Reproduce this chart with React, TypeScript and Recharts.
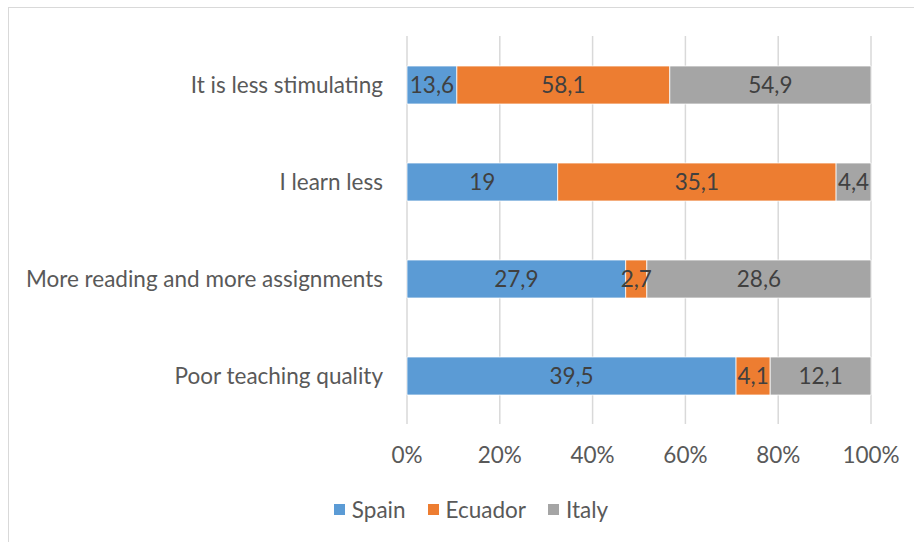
import React from 'react';
import { BarChart, Bar, XAxis, YAxis, CartesianGrid, Legend, LabelList } from 'recharts';

const categories = ['It is less stimulating', 'I learn less', 'More reading and more assignments', 'Poor teaching quality'];
const series = ['Spain', 'Ecuador', 'Italy'];
const spain = [13.6, 19, 27.9, 39.5];
const ecuador = [58.1, 35.1, 2.7, 4.1];
const italy = [54.9, 4.4, 28.6, 12.1];
const xTicks = [0, 0.2, 0.4, 0.6, 0.8, 1];

const data = categories.map((name, i) => ({ name, Spain: spain[i], Ecuador: ecuador[i], Italy: italy[i] }));

const FONT = 'Lato, "Open Sans", sans-serif';
const FS = 22.5;
const fmt = (v: any) => String(v).replace('.', ',');

const LegendContent = (props: any) => {
    const items = [...(props.payload || [])].sort((a: any, b: any) => series.indexOf(a.value) - series.indexOf(b.value));
    return (
        <div style={{ display: 'flex', justifyContent: 'center', gap: 22, fontSize: FS, fontFamily: FONT, color: '#595959' }}>
            {items.map((it: any) => (
                <div key={it.value} style={{ display: 'flex', alignItems: 'center', gap: 7 }}>
                    <span style={{ width: 11, height: 11, background: it.color, display: 'inline-block' }} />
                    <span>{it.value}</span>
                </div>
            ))}
        </div>
    );
};

export default function App() {
    return (
        <div style={{ position: 'absolute', left: 0, top: 0, width: 914, height: 542, background: '#fff', overflow: 'hidden', fontFamily: FONT }}>
            <div style={{ position: 'absolute', left: 8, top: 7, width: 940, height: 600, border: '1px solid #d9d9d9' }} />
            <BarChart
                width={914}
                height={542}
                data={data}
                layout="vertical"
                stackOffset="expand"
                margin={{ top: 36, right: 43, bottom: 58, left: 0 }}
                style={{ position: 'absolute', left: 0, top: 0 }}
            >
                <CartesianGrid horizontal={false} stroke="#d9d9d9" strokeWidth={1.5} />
                <XAxis
                    type="number"
                    domain={[0, 1]}
                    ticks={xTicks}
                    tickFormatter={(v: number) => `${Math.round(v * 100)}%`}
                    axisLine={false}
                    tickLine={false}
                    tickSize={0}
                    tickMargin={23}
                    height={60}
                    tick={{ fill: '#595959', fontSize: FS, fontFamily: FONT }}
                />
                <YAxis
                    type="category"
                    dataKey="name"
                    width={407}
                    axisLine={false}
                    tickLine={false}
                    tickSize={0}
                    tickMargin={24}
                    tick={{ fill: '#595959', fontSize: FS, fontFamily: FONT, dy: 1 }}
                />
                <Legend
                    verticalAlign="middle"
                    align="center"
                    content={LegendContent}
                    wrapperStyle={{ top: 496, left: 14, width: 914 }}
                />
                <Bar dataKey="Spain" stackId="a" fill="#5B9BD5" stroke="#ffffff" strokeWidth={0.75} barSize={38} isAnimationActive={false}>
                    <LabelList dataKey="Spain" position="center" fill="#404040" fontSize={FS} fontFamily={FONT} formatter={fmt} />
                </Bar>
                <Bar dataKey="Ecuador" stackId="a" fill="#ED7D31" stroke="#ffffff" strokeWidth={0.75} barSize={38} isAnimationActive={false}>
                    <LabelList dataKey="Ecuador" position="center" fill="#404040" fontSize={FS} fontFamily={FONT} formatter={fmt} />
                </Bar>
                <Bar dataKey="Italy" stackId="a" fill="#A5A5A5" stroke="#ffffff" strokeWidth={0.75} barSize={38} isAnimationActive={false}>
                    <LabelList dataKey="Italy" position="center" fill="#404040" fontSize={FS} fontFamily={FONT} formatter={fmt} />
                </Bar>
            </BarChart>
        </div>
    );
}
